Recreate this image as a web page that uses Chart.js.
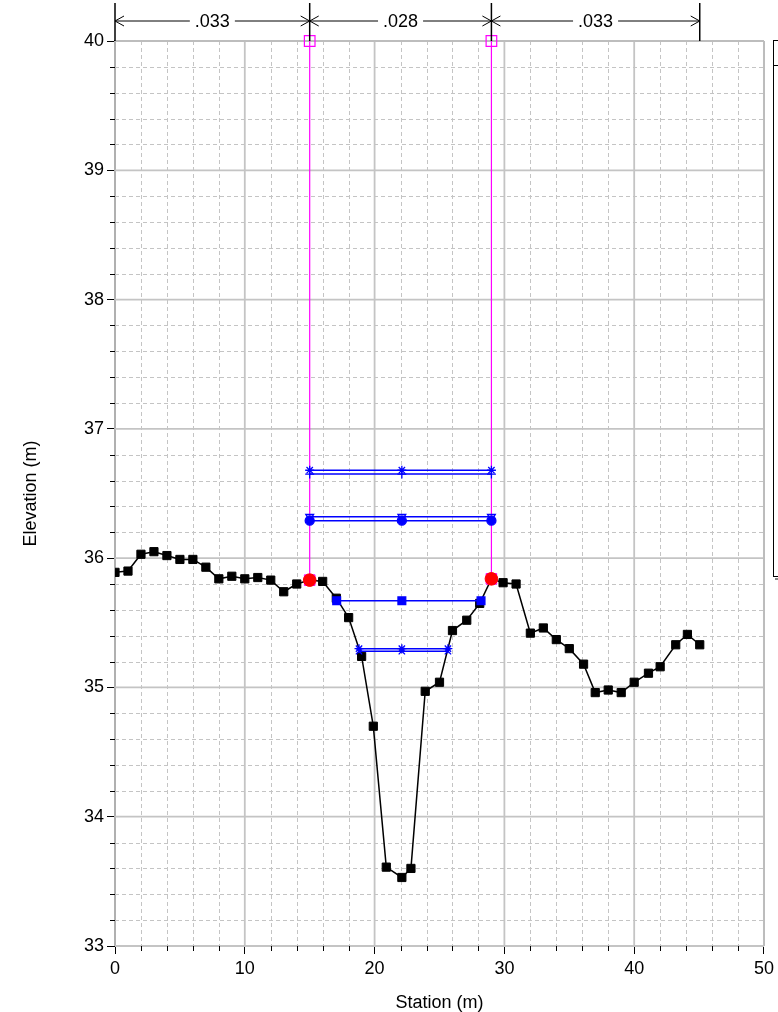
<!DOCTYPE html>
<html>
<head>
<meta charset="utf-8">
<script src="https://cdn.jsdelivr.net/npm/chart.js@4.4.1/dist/chart.umd.min.js"></script>
<style>
  body { margin: 0; background: #fff; }
  canvas { display: block; }
</style>
</head>
<body>
<canvas id="xsChart" width="778" height="1012"></canvas>
<script>
// ground profile (station m, elevation m)
const groundSta = [0, 1, 2, 3, 4, 5, 6, 7, 8, 9, 10, 11, 12, 13, 14, 15, 16, 17.05, 18, 19, 19.9, 20.9, 22.1, 22.8, 23.9, 25, 26, 27.1, 28.1, 29, 29.9, 30.9, 32, 33, 34, 35, 36.1, 37, 38, 39, 40, 41.1, 42, 43.2, 44.1, 45.05];
const groundElev = [35.89, 35.90, 36.03, 36.05, 36.02, 35.99, 35.99, 35.93, 35.84, 35.86, 35.84, 35.85, 35.83, 35.74, 35.80, 35.83, 35.82, 35.69, 35.54, 35.24, 34.70, 33.61, 33.53, 33.60, 34.97, 35.04, 35.44, 35.52, 35.65, 35.84, 35.81, 35.80, 35.42, 35.46, 35.37, 35.30, 35.18, 34.96, 34.98, 34.96, 35.04, 35.11, 35.16, 35.33, 35.41, 35.33];

// bank stations
const bankSta = [15, 29];
const bankToe = [35.83, 35.84];
const bankTop = 40;

// water surfaces: left edge, centre, right edge, elevation, marker
const wsLeft = [15, 15, 15, 15, 17.08, 18.8, 18.8];
const wsMid = [22.1, 22.1, 22.1, 22.1, 22.1, 22.1, 22.1];
const wsRight = [29, 29, 29, 29, 28.2, 25.65, 25.65];
const wsElev = [36.68, 36.65, 36.32, 36.29, 35.67, 35.30, 35.28];
const wsMarker = ['star', 'cross', 'triangle', 'circle', 'rect', 'star', 'crossRot'];

// manning's n regions along the top
const nBounds = [0, 15, 29, 45.05];
const nLabels = ['.033', '.028', '.033'];

// axis ticks
const xMajor = [0, 10, 20, 30, 40, 50];
const yMajor = [33, 34, 35, 36, 37, 38, 39, 40];

const FONT = 'Liberation Sans, Arial, sans-serif';

let datasets = [];

// bank lines (magenta), drawn underneath everything
bankSta.forEach((s, i) => {
  datasets.push({
    order: 2,
    data: [{x: s, y: bankToe[i]}, {x: s, y: bankTop}],
    showLine: true, borderColor: '#ff00ff', borderWidth: 1.2,
    pointRadius: 0, clip: false
  });
});

// ground
datasets.push({
  order: 1,
  data: groundSta.map((s, i) => ({x: s, y: groundElev[i]})),
  showLine: true, borderColor: '#000', borderWidth: 1.5,
  pointStyle: 'rect', pointRadius: 5.8, pointBackgroundColor: '#000', pointBorderColor: '#000', pointBorderWidth: 1
});

// water surfaces
wsElev.forEach((e, i) => {
  const filled = wsMarker[i] === 'circle' || wsMarker[i] === 'rect';
  datasets.push({
    order: 0,
    data: [{x: wsLeft[i], y: e}, {x: wsMid[i], y: e}, {x: wsRight[i], y: e}],
    showLine: true, borderColor: '#0000ff', borderWidth: 1.5,
    pointStyle: wsMarker[i], pointRotation: wsMarker[i] === 'triangle' ? 180 : 0,
    pointRadius: wsMarker[i] === 'rect' ? 5.5 : 4.5,
    pointBackgroundColor: filled ? '#0000ff' : 'rgba(0,0,255,0.25)',
    pointBorderColor: '#0000ff', pointBorderWidth: 1.3
  });
});

// bank markers on top
datasets.push({
  order: -1,
  data: bankSta.map(s => ({x: s, y: bankTop})),
  showLine: false, pointStyle: 'rect', pointRadius: 7.5,
  pointBackgroundColor: 'rgba(0,0,0,0)', pointBorderColor: '#ff00ff', pointBorderWidth: 1.2, clip: false
});
datasets.push({
  order: -1,
  data: bankSta.map((s, i) => ({x: s, y: bankToe[i]})),
  showLine: false, pointStyle: 'rect', pointRadius: 7.5,
  pointBackgroundColor: '#ff66ff', pointBorderColor: '#ff00ff', pointBorderWidth: 1
});
datasets.push({
  order: -2,
  data: bankSta.map((s, i) => ({x: s, y: bankToe[i]})),
  showLine: false, pointStyle: 'circle', pointRadius: 6.3,
  pointBackgroundColor: '#ff0000', pointBorderColor: '#ff0000', pointBorderWidth: 1
});

function seg(ctx, x1, y1, x2, y2) {
  ctx.beginPath(); ctx.moveTo(x1, y1); ctx.lineTo(x2, y2); ctx.stroke();
}

// grid, minor ticks, n-value bar and the (cut off) legend box
const sketchPlugin = {
  id: 'sketch',
  beforeDatasetsDraw(chart) {
    const {ctx, chartArea: a, scales: {x, y}} = chart;
    ctx.save();
    ctx.lineWidth = 1;
    ctx.strokeStyle = '#c4c4c4';
    ctx.setLineDash([4, 3]);
    for (let v = 2; v < 50; v += 2) {
      if (v % 10 === 0) continue;
      const px = Math.round(x.getPixelForValue(v)) + 0.5;
      seg(ctx, px, a.top, px, a.bottom);
    }
    for (let k = 1; k < 35; k++) {
      if (k % 5 === 0) continue;
      const py = Math.round(y.getPixelForValue(33 + k * 0.2)) + 0.5;
      seg(ctx, a.left, py, a.right, py);
    }
    ctx.setLineDash([]);
    ctx.strokeStyle = '#c4c4c4';
    ctx.lineWidth = 1.8;
    xMajor.forEach(v => { const px = x.getPixelForValue(v); seg(ctx, px, a.top, px, a.bottom); });
    yMajor.forEach(v => { const py = y.getPixelForValue(v); seg(ctx, a.left, py, a.right, py); });
    ctx.lineWidth = 2;
    ctx.strokeStyle = '#bdbdbd';
    seg(ctx, a.left, a.top, a.right, a.top);
    seg(ctx, a.right, a.top, a.right, a.bottom);
    ctx.restore();
  },
  afterDraw(chart) {
    const {ctx, chartArea: a, scales: {x, y}} = chart;
    ctx.save();
    // minor ticks
    ctx.strokeStyle = '#000';
    ctx.lineWidth = 1;
    for (let v = 2; v < 50; v += 2) {
      if (v % 10 === 0) continue;
      const px = Math.round(x.getPixelForValue(v)) + 0.5;
      seg(ctx, px, a.bottom, px, a.bottom + 5);
    }
    for (let k = 1; k < 35; k++) {
      if (k % 5 === 0) continue;
      const py = Math.round(y.getPixelForValue(33 + k * 0.2)) + 0.5;
      seg(ctx, a.left - 5, py, a.left, py);
    }
    // n-values
    const ty = 21;
    ctx.lineWidth = 1.5;
    nBounds.forEach(b => { const px = x.getPixelForValue(b); seg(ctx, px, 3, px, a.top); });
    ctx.font = '18px ' + FONT;
    ctx.fillStyle = '#000';
    ctx.textAlign = 'center';
    ctx.textBaseline = 'middle';
    ctx.lineWidth = 1;
    nLabels.forEach((t, i) => {
      const x1 = x.getPixelForValue(nBounds[i]);
      const x2 = x.getPixelForValue(nBounds[i + 1]);
      const xm = (x1 + x2) / 2;
      const half = ctx.measureText(t).width / 2 + 5;
      seg(ctx, x1, ty, xm - half, ty);
      seg(ctx, xm + half, ty, x2, ty);
      ctx.fillText(t, xm, ty + 1);
      // open arrow heads
      ctx.beginPath();
      ctx.moveTo(x1 + 9, ty - 5); ctx.lineTo(x1, ty); ctx.lineTo(x1 + 9, ty + 5);
      ctx.moveTo(x2 - 9, ty - 5); ctx.lineTo(x2, ty); ctx.lineTo(x2 - 9, ty + 5);
      ctx.stroke();
    });
    // legend box, mostly outside the picture
    ctx.strokeStyle = '#888';
    ctx.lineWidth = 2;
    seg(ctx, 775, 579, 790, 579);
    ctx.strokeStyle = '#000';
    ctx.lineWidth = 1;
    ctx.strokeRect(773.5, 40.5, 30, 536);
    seg(ctx, 773.5, 65.5, 800, 65.5);
    ctx.restore();
  }
};

new Chart(document.getElementById('xsChart'), {
  type: 'scatter',
  data: {datasets: datasets},
  plugins: [sketchPlugin],
  options: {
    responsive: false,
    devicePixelRatio: 1,
    animation: false,
    layout: {padding: {top: 41, right: 14, left: 0, bottom: 0}},
    plugins: {legend: {display: false}, tooltip: {enabled: false}},
    elements: {line: {tension: 0}},
    scales: {
      x: {
        type: 'linear', min: 0, max: 50,
        afterFit: s => { s.height = 66; },
        ticks: {stepSize: 10, color: '#000', font: {family: FONT, size: 18}, padding: 4, maxRotation: 0},
        grid: {drawOnChartArea: false, tickLength: 8, color: '#000', tickWidth: 1},
        border: {color: '#000', width: 2},
        title: {display: true, text: 'Station (m)', color: '#000', font: {family: FONT, size: 18, lineHeight: 1}, padding: {bottom: 0}}
      },
      y: {
        type: 'linear', min: 33, max: 40,
        afterFit: s => { s.width = 115; },
        ticks: {stepSize: 1, color: '#000', font: {family: FONT, size: 18}, padding: 3},
        grid: {drawOnChartArea: false, tickLength: 8, color: '#000', tickWidth: 1},
        border: {color: '#000', width: 2},
        title: {display: true, text: 'Elevation (m)', color: '#000', font: {family: FONT, size: 18, lineHeight: 1}, padding: {top: 22}}
      }
    }
  }
});
</script>
</body>
</html>
